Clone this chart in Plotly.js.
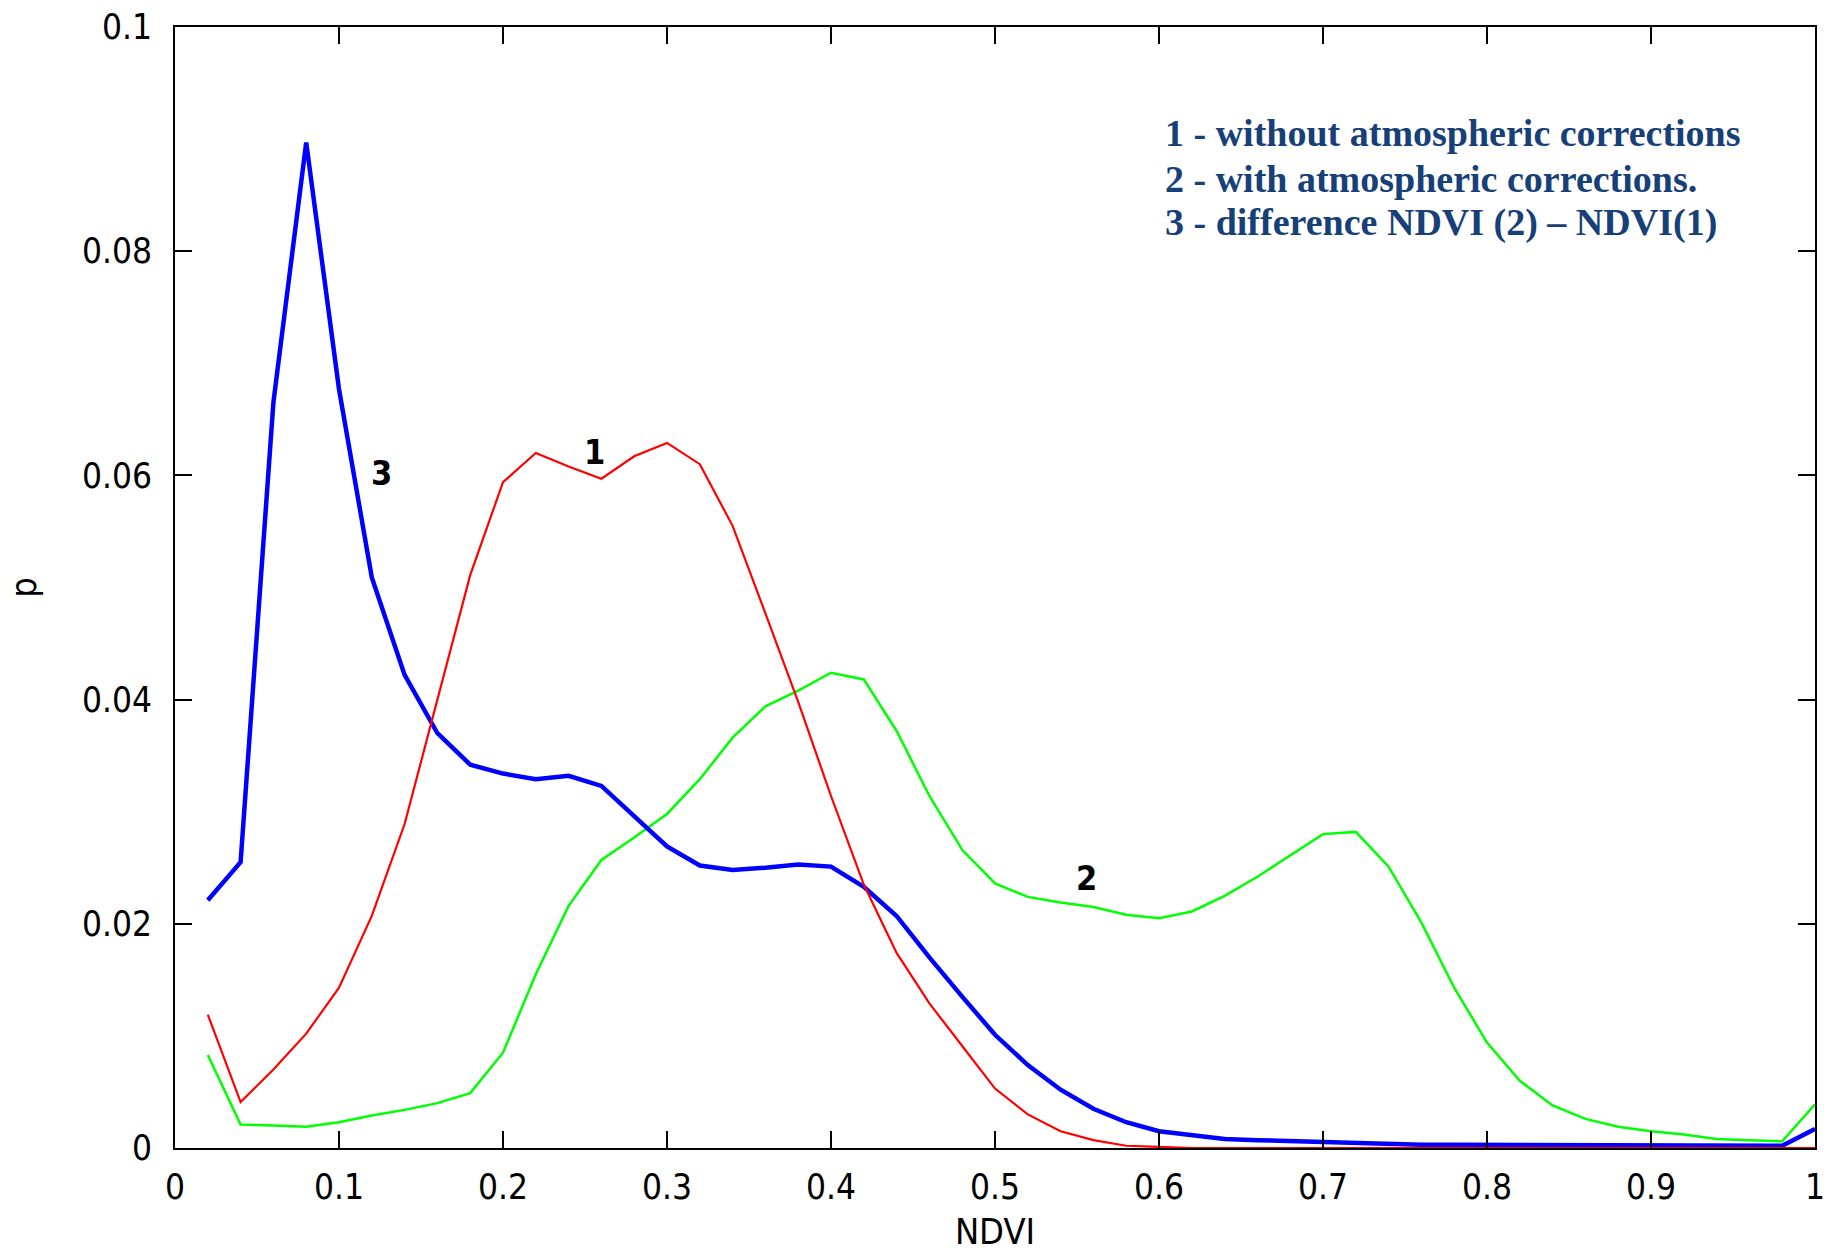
<!DOCTYPE html>
<html>
<head>
<meta charset="utf-8">
<script src="https://cdn.plot.ly/plotly-3.0.1.min.js"></script>
<style>html,body{margin:0;padding:0;background:#fff;}#chart{width:1832px;height:1252px;}</style>
</head>
<body>
<div id="chart"></div>
<script>
const ndvi = [0.02,0.04,0.06,0.08,0.10,0.12,0.14,0.16,0.18,0.20,0.22,0.24,0.26,0.28,0.30,0.32,0.34,0.36,0.38,0.40,0.42,0.44,0.46,0.48,0.50,0.52,0.54,0.56,0.58,0.60,0.62,0.64,0.66,0.68,0.70,0.72,0.74,0.76,0.78,0.80,0.82,0.84,0.86,0.88,0.90,0.92,0.94,0.96,0.98,1.00];

// 1 - without atmospheric corrections
const p1 = [0.0119,0.0041,0.0070,0.0102,0.0143,0.0207,0.0289,0.0400,0.0511,0.0594,0.0620,0.0608,0.0597,0.0617,0.0629,0.0610,0.0555,0.0477,0.0398,0.0314,0.0235,0.0174,0.0129,0.0091,0.0053,0.0030,0.0015,0.0007,0.0002,0.0001,0,0,0,0,0,0,0,0,0,0,0,0,0,0,0,0,0,0,0,0];

// 2 - with atmospheric corrections
const p2 = [0.0083,0.0021,0.0020,0.0019,0.0023,0.0029,0.0034,0.0040,0.0049,0.0085,0.0155,0.0216,0.0257,0.0277,0.0298,0.0329,0.0366,0.0394,0.0408,0.0424,0.0418,0.0372,0.0314,0.0266,0.0236,0.0224,0.0219,0.0215,0.0208,0.0205,0.0211,0.0225,0.0242,0.0261,0.0280,0.0282,0.0251,0.0201,0.0143,0.0094,0.0060,0.0038,0.0026,0.0019,0.0015,0.0012,0.0008,0.0007,0.0006,0.0039];

// 3 - difference NDVI(2) - NDVI(1)
const p3 = [0.0221,0.0255,0.0665,0.0897,0.0677,0.0509,0.0422,0.0370,0.0342,0.0334,0.0329,0.0332,0.0323,0.0296,0.0269,0.0252,0.0248,0.0250,0.0253,0.0251,0.0233,0.0207,0.0170,0.0135,0.0101,0.0074,0.0052,0.0035,0.0023,0.0015,0.0012,0.0008,0.0007,0.0006,0.0005,0.0004,0.0004,0.0003,0.0003,0.0003,0.0003,0.0002,0.0002,0.0002,0.0002,0.0002,0.0002,0.0002,0.0002,0.0017];

const xTickVals = [0,0.1,0.2,0.3,0.4,0.5,0.6,0.7,0.8,0.9,1];
const xTickText = ["0","0.1","0.2","0.3","0.4","0.5","0.6","0.7","0.8","0.9","1"];
const yTickVals = [0,0.02,0.04,0.06,0.08,0.1];
const yTickText = ["0","0.02","0.04","0.06","0.08","0.1"];

const curveLabels = ["1","2","3"];
const curveLabelX = [0.256,0.556,0.126];
const curveLabelY = [0.0621,0.0241,0.0602];

const legendLines = [
  "1 - without atmospheric corrections",
  "2 - with atmospheric corrections.",
  "3 - difference NDVI (2) \u2013 NDVI(1)"
];
const legendY = [0.905, 0.864, 0.826];

const sansFont = "DejaVu Sans Condensed, DejaVu Sans, sans-serif";

const traces = [
  {x: ndvi, y: p2, mode: "lines", line: {color: "#00ff00", width: 2.5}, showlegend: false, hoverinfo: "skip"},
  {x: ndvi, y: p3, mode: "lines", line: {color: "#0000ff", width: 4.5}, showlegend: false, hoverinfo: "skip"},
  {x: ndvi, y: p1, mode: "lines", line: {color: "#ff0000", width: 2.2}, showlegend: false, hoverinfo: "skip"}
];

const annotations = [];
for (let i = 0; i < curveLabels.length; i++) {
  annotations.push({x: curveLabelX[i], y: curveLabelY[i], xref: "x", yref: "y", text: "<b>" + curveLabels[i] + "</b>", showarrow: false,
    font: {family: sansFont, size: 34, color: "#000"}, xanchor: "center", yanchor: "middle"});
}
for (let i = 0; i < legendLines.length; i++) {
  annotations.push({x: 0.6023, y: legendY[i], xref: "paper", yref: "paper", text: "<b>" + legendLines[i] + "</b>", showarrow: false,
    font: {family: "Liberation Serif, serif", size: 38, color: "#173f78"}, xanchor: "left", yanchor: "middle"});
}

const layout = {
  width: 1832, height: 1252,
  margin: {l: 175, r: 17, t: 27, b: 104, pad: 0},
  paper_bgcolor: "#fff", plot_bgcolor: "#fff",
  font: {family: sansFont, size: 35, color: "#000"},
  xaxis: {
    range: [0, 1], tickvals: xTickVals, ticktext: xTickText,
    showline: true, linecolor: "#000", linewidth: 2, mirror: "ticks",
    ticks: "inside", ticklen: 17, tickwidth: 2, tickcolor: "#000",
    showgrid: false, zeroline: false, ticklabelstandoff: 7,
    tickfont: {family: sansFont, size: 35, color: "#000"},
    title: {text: "NDVI", font: {family: sansFont, size: 36, color: "#000"}, standoff: 27},
    automargin: false
  },
  yaxis: {
    range: [0, 0.1], tickvals: yTickVals, ticktext: yTickText,
    showline: true, linecolor: "#000", linewidth: 2, mirror: "ticks",
    ticks: "inside", ticklen: 17, tickwidth: 2, tickcolor: "#000",
    showgrid: false, zeroline: false, ticklabelstandoff: 14,
    tickfont: {family: sansFont, size: 35, color: "#000"},
    title: {text: "p", font: {family: sansFont, size: 36, color: "#000"}, standoff: 34},
    automargin: false
  },
  annotations: annotations,
  showlegend: false
};

Plotly.newPlot("chart", traces, layout, {displayModeBar: false, staticPlot: true});
</script>
</body>
</html>
